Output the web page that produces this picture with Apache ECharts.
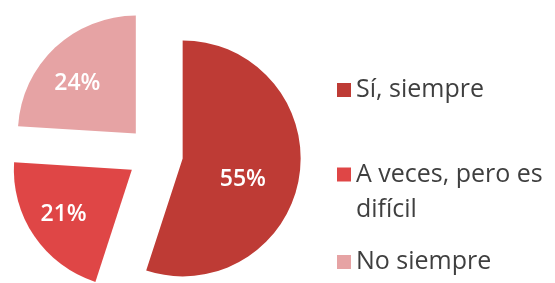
<!DOCTYPE html>
<html>
<head>
<meta charset="utf-8">
<script src="https://cdn.jsdelivr.net/npm/echarts@6/dist/echarts.min.js"></script>
<style>
html,body{margin:0;padding:0;background:#fff;}
#c{width:555px;height:283px;}
</style>
</head>
<body>
<div id="c"></div>
<script>
var categories = ['Sí, siempre', 'A veces, pero es difícil', 'No siempre'];
var values = [55, 21, 24];
var colors = ['#BE3B35', '#DF4646', '#E6A3A4'];
var labelShifts = [[-1, 11], [-17, 10], [-16, -5]];

var chart = echarts.init(document.getElementById('c'), null, {renderer: 'canvas'});

var data = categories.map(function (name, i) {
  return {
    name: name,
    value: values[i],
    selected: true,
    itemStyle: {color: colors[i]}
  };
});

var font = 'Open Sans';
function legend(i, top, extra) {
  var ts = {fontSize: 25, color: '#3f3f3f', fontFamily: font, lineHeight: 26};
  var l = {
    data: [categories[i]],
    left: 337,
    top: top,
    padding: 0,
    icon: 'rect',
    itemWidth: 14,
    itemHeight: 14,
    selectedMode: false,
    textStyle: ts
  };
  if (extra) {
    for (var k in extra.text) ts[k] = extra.text[k];
    if (extra.formatter) l.formatter = extra.formatter;
  }
  return l;
}

chart.setOption({
  animation: false,
  legend: [
    legend(0, 77),
    legend(1, 122, {text: {width: 198, overflow: 'break', lineHeight: 35}, formatter: '\n{name}'}),
    legend(2, 249)
  ],
  series: [{
    type: 'pie',
    center: [155, 154],
    radius: [0, 118],
    startAngle: 90,
    clockwise: true,
    selectedMode: 'multiple',
    selectedOffset: 28,
    avoidLabelOverlap: false,
    select: {itemStyle: {borderWidth: 0}, label: {show: true}},
    emphasis: {disabled: true},
    label: {
      show: true,
      position: 'inside',
      formatter: '{c}%',
      color: '#ffffff',
      fontSize: 23,
      fontWeight: 600,
      fontFamily: font
    },
    labelLayout: function (params) {
      var s = labelShifts[params.dataIndex];
      return {dx: s[0], dy: s[1]};
    },
    labelLine: {show: false},
    data: data
  }]
});
</script>
</body>
</html>
